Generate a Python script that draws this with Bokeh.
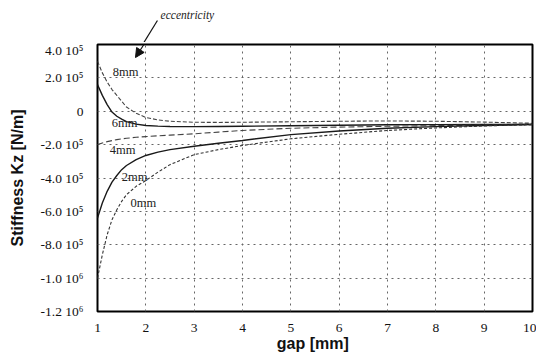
from bokeh.plotting import figure
from bokeh.layouts import column
from bokeh.models import Range1d, FixedTicker, Label, Arrow, NormalHead
from bokeh.core.properties import value
from bokeh.embed import file_html
from bokeh.resources import INLINE

# ---- data ----
gap = [1.0, 1.1, 1.2, 1.3, 1.4, 1.5, 1.6, 1.8, 2.0, 2.25, 2.5, 3.0, 3.5, 4.0,
       5.0, 6.0, 7.0, 8.0, 9.0, 10.0]
k_8mm = [3.0e5, 2.3e5, 1.75e5, 1.3e5, 0.95e5, 0.6e5, 0.25e5, -0.12e5, -0.37e5,
         -0.52e5, -0.6e5, -0.66e5, -0.67e5, -0.66e5, -0.63e5, -0.6e5, -0.58e5,
         -0.6e5, -0.65e5, -0.72e5]
k_6mm = [1.6e5, 0.95e5, 0.4e5, -0.05e5, -0.3e5, -0.47e5, -0.62e5, -0.77e5,
         -0.85e5, -0.89e5, -0.91e5, -0.92e5, -0.91e5, -0.9e5, -0.87e5, -0.84e5,
         -0.81e5, -0.8e5, -0.79e5, -0.78e5]
k_4mm = [-2.0e5, -1.9e5, -1.82e5, -1.76e5, -1.7e5, -1.66e5, -1.62e5, -1.56e5,
         -1.52e5, -1.47e5, -1.43e5, -1.35e5, -1.25e5, -1.15e5, -1.02e5, -0.95e5,
         -0.9e5, -0.86e5, -0.83e5, -0.8e5]
k_2mm = [-6.4e5, -5.5e5, -4.8e5, -4.25e5, -3.85e5, -3.5e5, -3.25e5, -2.9e5,
         -2.65e5, -2.45e5, -2.3e5, -2.1e5, -1.92e5, -1.75e5, -1.4e5, -1.18e5,
         -1.02e5, -0.92e5, -0.85e5, -0.8e5]
k_0mm = [-10.0e5, -8.6e5, -7.4e5, -6.5e5, -5.9e5, -5.4e5, -5.0e5, -4.5e5,
         -4.15e5, -3.65e5, -3.2e5, -2.6e5, -2.3e5, -2.05e5, -1.65e5, -1.38e5,
         -1.15e5, -1.0e5, -0.88e5, -0.8e5]

series_names = ["8mm", "6mm", "4mm", "2mm", "0mm"]
series_values = [k_8mm, k_6mm, k_4mm, k_2mm, k_0mm]

# curve label positions (data units)
label_x = [1.58, 1.56, 1.52, 1.77, 1.95]
label_y = [2.38e5, -0.73e5, -2.3e5, -3.97e5, -5.47e5]

x_ticks = [1, 2, 3, 4, 5, 6, 7, 8, 9, 10]
y_ticks = [400000, 200000, 0, -200000, -400000, -600000, -800000, -1000000, -1200000]
y_tick_labels = ["4.0 10\u2075", "2.0 10\u2075", "0", "-2.0 10\u2075", "-4.0 10\u2075",
                 "-6.0 10\u2075", "-8.0 10\u2075", "-1.0 10\u2076", "-1.2 10\u2076"]

annot_text = "eccentricity"
annot_x = 2.86          # gap position of the note
arrow_tail_x = 2.24     # arrow start (in the strip above the chart)
arrow_mid_x = 1.96      # where the arrow crosses the chart's top edge
arrow_head = (1.786, 3.22e5)

# ---- styles ----
line_dash = ["4 2", "solid", "6 3", "solid", "3 2"]
line_color = ["#444444", "#1a1a1a", "#444444", "#1a1a1a", "#333333"]
line_width = [1.1, 1.4, 1.1, 1.4, 1.1]

W = 536
TOP_H = 42

x_range = Range1d(1, 10)

# ---- top strip with the "eccentricity" note (frame aligned with the chart) ----
top = figure(width=W, height=TOP_H, x_range=x_range, y_range=Range1d(TOP_H, 0),
             output_backend="svg", toolbar_location=None,
             min_border_left=97, min_border_right=4, min_border_top=0, min_border_bottom=0)
top.axis.visible = False
top.grid.visible = False
top.outline_line_color = None
top.background_fill_color = "white"
top.border_fill_color = "white"
top.add_layout(Label(x=annot_x, y=14, text=annot_text,
                     text_font="Liberation Serif", text_font_style="italic",
                     text_font_size="11.5px", text_align="center", text_baseline="middle",
                     text_color="#222222"))
top.add_layout(Arrow(x_start=arrow_tail_x, y_start=20, x_end=arrow_mid_x, y_end=TOP_H,
                     line_color="#111111", line_width=1.2, end=None))

# ---- main chart ----
p = figure(width=W, height=358 - TOP_H,
           x_range=x_range, y_range=Range1d(-1.2e6, 4e5),
           output_backend="svg", toolbar_location=None,
           min_border_left=97, min_border_right=4,
           min_border_top=2, min_border_bottom=47)
p.background_fill_color = "white"
p.border_fill_color = "white"
p.outline_line_color = "black"
p.outline_line_width = 2

for name, vals, d, c, w in zip(series_names, series_values, line_dash, line_color, line_width):
    p.line(gap, vals, line_color=c, line_width=w, line_dash=d)

p.text(x=label_x, y=label_y, text=series_names,
       text_font=value("Liberation Serif"), text_font_size="12.5px",
       text_color="#222222", text_align="center", text_baseline="middle")

# axes
p.xaxis.ticker = FixedTicker(ticks=x_ticks)
p.yaxis.ticker = FixedTicker(ticks=y_ticks)
p.yaxis.major_label_overrides = {t: s for t, s in zip(y_ticks, y_tick_labels)}
for ax in (p.xaxis, p.yaxis):
    ax.axis_line_color = None
    ax.major_tick_line_color = None
    ax.minor_tick_line_color = None
    ax.major_label_text_font = "Liberation Serif"
    ax.major_label_text_font_size = "13.5px"
    ax.major_label_text_color = "#111111"
    ax.axis_label_text_font = "Liberation Sans"
    ax.axis_label_text_font_size = "16px"
    ax.axis_label_text_font_style = "bold"
    ax.axis_label_text_color = "#111111"
p.xaxis.axis_label = "gap  [mm]"
p.yaxis.axis_label = "Stiffness Kz [N/m]"
p.xaxis.major_label_standoff = 6
p.xaxis.axis_label_standoff = 0
p.yaxis.major_label_standoff = 8
p.yaxis.axis_label_standoff = 12

# grid
for g in (p.xgrid, p.ygrid):
    g.grid_line_color = "#666666"
    g.grid_line_dash = "2 4"
    g.grid_line_width = 1

# arrow head part inside the frame
p.add_layout(Arrow(x_start=arrow_mid_x, y_start=4e5, x_end=arrow_head[0], y_end=arrow_head[1],
                   line_color="#111111", line_width=1.2,
                   end=NormalHead(size=9, fill_color="#111111", line_color="#111111")))

layout = column(top, p, spacing=0)
open("out.html", "w").write(file_html(layout, INLINE))
